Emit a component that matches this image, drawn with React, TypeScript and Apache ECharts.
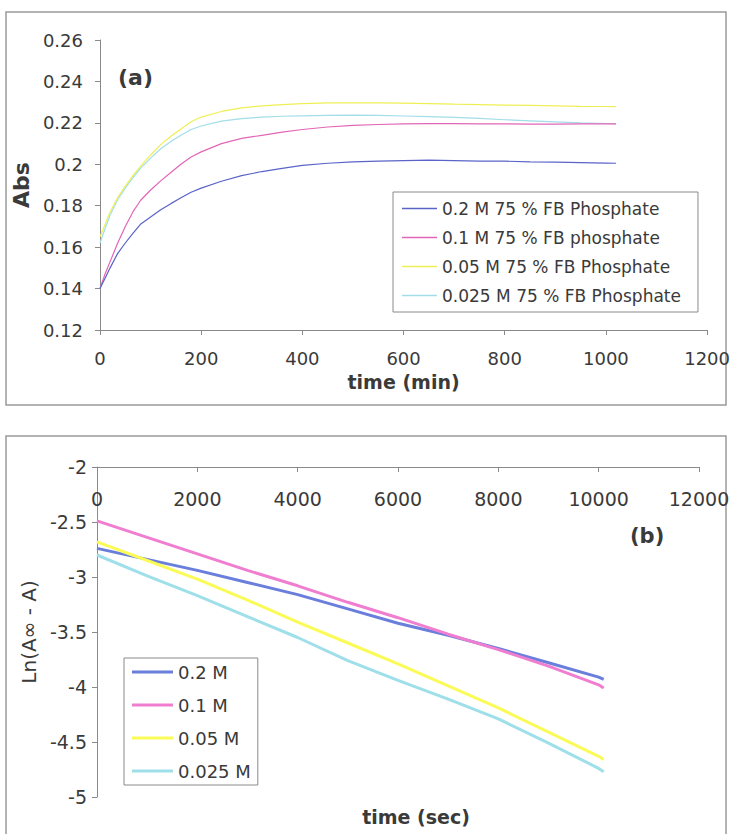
import React, { useEffect, useRef } from "react";
import * as echarts from "echarts";

// ---- Panel (a): Abs vs time (min) ----
const timeMin = [0, 10, 20, 35, 50, 65, 80, 100, 120, 140, 160, 180, 200, 240, 280, 320, 360, 400, 450, 500, 550, 600, 650, 700, 750, 800, 850, 900, 950, 1000, 1020];
const abs02 = [0.140, 0.145, 0.150, 0.157, 0.162, 0.1667, 0.171, 0.1745, 0.178, 0.181, 0.1838, 0.1865, 0.1885, 0.1918, 0.1945, 0.1965, 0.198, 0.1995, 0.2005, 0.2012, 0.2015, 0.2018, 0.202, 0.2018, 0.2015, 0.2015, 0.2012, 0.201, 0.2008, 0.2006, 0.2005];
const abs01 = [0.140, 0.147, 0.153, 0.162, 0.170, 0.177, 0.1825, 0.1876, 0.192, 0.196, 0.200, 0.2035, 0.206, 0.210, 0.2125, 0.214, 0.2155, 0.2168, 0.218, 0.2188, 0.2192, 0.2195, 0.2196, 0.2196, 0.2195, 0.2195, 0.2194, 0.2194, 0.2195, 0.2195, 0.2195];
const abs005 = [0.165, 0.171, 0.177, 0.184, 0.1895, 0.1945, 0.199, 0.2045, 0.2095, 0.2135, 0.217, 0.2205, 0.2228, 0.2255, 0.2272, 0.2282, 0.2288, 0.2293, 0.2296, 0.2297, 0.2296, 0.2295, 0.2293, 0.229, 0.2288, 0.2286, 0.2284, 0.2282, 0.228, 0.2279, 0.2278];
const abs0025 = [0.162, 0.169, 0.1755, 0.183, 0.1885, 0.1935, 0.198, 0.203, 0.2075, 0.211, 0.214, 0.2168, 0.2185, 0.2208, 0.222, 0.2228, 0.2232, 0.2234, 0.2236, 0.2237, 0.2236, 0.2233, 0.223, 0.2226, 0.2222, 0.2215, 0.221, 0.2205, 0.22, 0.2197, 0.2195];
const namesA = ["0.2 M 75 % FB Phosphate", "0.1 M 75 % FB phosphate", "0.05 M 75 % FB Phosphate", "0.025 M 75 % FB Phosphate"];

// ---- Panel (b): Ln(A∞ - A) vs time (sec) ----
const timeSec = [0, 1000, 2000, 3000, 4000, 5000, 6000, 7000, 8000, 9000, 10000, 10100];
const ln02 = [-2.74, -2.84, -2.94, -3.05, -3.16, -3.29, -3.42, -3.53, -3.65, -3.78, -3.91, -3.93];
const ln01 = [-2.49, -2.64, -2.79, -2.94, -3.08, -3.23, -3.37, -3.52, -3.66, -3.81, -3.98, -4.01];
const ln005 = [-2.68, -2.85, -3.02, -3.21, -3.41, -3.60, -3.79, -3.99, -4.19, -4.41, -4.63, -4.66];
const ln0025 = [-2.80, -2.99, -3.17, -3.36, -3.55, -3.76, -3.94, -4.11, -4.29, -4.51, -4.74, -4.77];
const namesB = ["0.2 M", "0.1 M", "0.05 M", "0.025 M"];

const colorsA = ["#5a64c8", "#e266b8", "#efef55", "#a2dde8"];
const colorsB = ["#6a7edc", "#f07ed0", "#fbfb58", "#9edfea"];

const FONT = "DejaVu Sans";
const TXT = "#3a3a3a";
const AX = "#8a8a8a";

function pairs(xs: number[], ys: number[]) {
  return xs.map((x, i) => [x, ys[i]]);
}
const plain = (v: number) => String(v);

export default function App() {
  const ref = useRef<HTMLDivElement>(null);
  useEffect(() => {
    if (!ref.current) return;
    const chart = echarts.init(ref.current, undefined, { renderer: "svg" });
    const seriesA = [abs02, abs01, abs005, abs0025].map((ys, i) => ({
      name: namesA[i],
      type: "line",
      xAxisIndex: 0,
      yAxisIndex: 0,
      data: pairs(timeMin, ys),
      symbol: "none",
      showSymbol: false,
      lineStyle: { color: colorsA[i], width: 1.2 },
      itemStyle: { color: colorsA[i] },
      z: 2 + (3 - i),
    }));
    const seriesB = [ln02, ln01, ln005, ln0025].map((ys, i) => ({
      name: namesB[i],
      type: "line",
      xAxisIndex: 1,
      yAxisIndex: 1,
      data: pairs(timeSec, ys),
      symbol: "none",
      showSymbol: false,
      lineStyle: { color: colorsB[i], width: 3 },
      itemStyle: { color: colorsB[i] },
    }));
    const axisCommon = {
      axisLine: { show: true, onZero: false, lineStyle: { color: AX, width: 1 } },
      axisTick: { show: true, length: 5, lineStyle: { color: AX } },
      splitLine: { show: false },
    };
    chart.setOption({
      animation: false,
      backgroundColor: "#ffffff",
      textStyle: { fontFamily: FONT },
      grid: [
        { left: 100, top: 40, width: 610, height: 290 },
        { left: 97, top: 467, width: 602, height: 330 },
      ],
      xAxis: [
        {
          ...axisCommon,
          gridIndex: 0,
          type: "value",
          min: 0,
          max: 1200,
          interval: 200,
          axisLabel: { color: TXT, fontSize: 18, fontFamily: FONT, margin: 19, formatter: plain },
          name: "time (min)",
          nameLocation: "middle",
          nameGap: 42,
          nameTextStyle: { color: TXT, fontSize: 19, fontWeight: "bold", fontFamily: FONT },
        },
        {
          ...axisCommon,
          gridIndex: 1,
          type: "value",
          position: "top",
          min: 0,
          max: 12000,
          interval: 2000,
          axisTick: { show: true, inside: true, length: 5, lineStyle: { color: AX } },
          axisLabel: { inside: true, color: TXT, fontSize: 19, fontFamily: FONT, margin: 22, formatter: plain },
        },
      ],
      yAxis: [
        {
          ...axisCommon,
          gridIndex: 0,
          type: "value",
          min: 0.12,
          max: 0.26,
          interval: 0.02,
          axisLabel: { color: TXT, fontSize: 18, fontFamily: FONT, margin: 17 },
          name: "Abs",
          nameLocation: "middle",
          nameGap: 57,
          nameRotate: 90,
          nameTextStyle: { color: TXT, fontSize: 22, fontWeight: "bold", fontFamily: FONT },
        },
        {
          ...axisCommon,
          gridIndex: 1,
          type: "value",
          min: -5,
          max: -2,
          interval: 0.5,
          axisLabel: { color: TXT, fontSize: 19, fontFamily: FONT, margin: 10 },
          name: "Ln(A∞ - A)",
          nameLocation: "middle",
          nameGap: 52,
          nameRotate: 90,
          nameTextStyle: { color: TXT, fontSize: 20, fontFamily: FONT },
        },
      ],
      legend: [
        {
          data: namesA.map((n) => ({ name: n, icon: "rect" })),
          orient: "vertical",
          left: 393,
          top: 192,
          padding: [8, 17, 8, 9],
          itemWidth: 35,
          itemHeight: 1.5,
          itemGap: 12,
          borderColor: "#8a8a8a",
          borderWidth: 1,
          backgroundColor: "#ffffff",
          textStyle: { color: TXT, fontSize: 17, fontFamily: FONT, lineHeight: 17 },
        },
        {
          data: namesB.map((n) => ({ name: n, icon: "rect" })),
          orient: "vertical",
          left: 124,
          top: 658,
          padding: [4, 7, 4, 8],
          itemWidth: 41,
          itemHeight: 3,
          itemGap: 13,
          borderColor: "#8a8a8a",
          borderWidth: 1,
          backgroundColor: "#ffffff",
          textStyle: { color: TXT, fontSize: 18, fontFamily: FONT, lineHeight: 20 },
        },
      ],
      graphic: [
        {
          type: "rect",
          silent: true,
          z: -10,
          shape: { x: 6, y: 12, width: 720, height: 393 },
          style: { fill: "none", stroke: "#9a9a9a", lineWidth: 1.5 },
        },
        {
          type: "rect",
          silent: true,
          z: -10,
          shape: { x: 6, y: 436, width: 720, height: 420 },
          style: { fill: "none", stroke: "#9a9a9a", lineWidth: 1.5 },
        },
        {
          type: "text",
          left: 118,
          top: 66,
          style: { text: "(a)", fill: TXT, font: `bold 22px "${FONT}"` },
        },
        {
          type: "text",
          left: 630,
          top: 525,
          style: { text: "(b)", fill: TXT, font: `bold 21px "${FONT}"` },
        },
        {
          type: "text",
          x: 416,
          y: 817,
          style: {
            text: "time (sec)",
            fill: TXT,
            font: `bold 19px "${FONT}"`,
            align: "center",
            verticalAlign: "middle",
          },
        },
      ],
      series: [...seriesA, ...seriesB],
    });
    return () => chart.dispose();
  }, []);
  return (
    <div
      ref={ref}
      style={{ position: "absolute", left: 0, top: 0, width: 733, height: 834, background: "#fff" }}
    />
  );
}
